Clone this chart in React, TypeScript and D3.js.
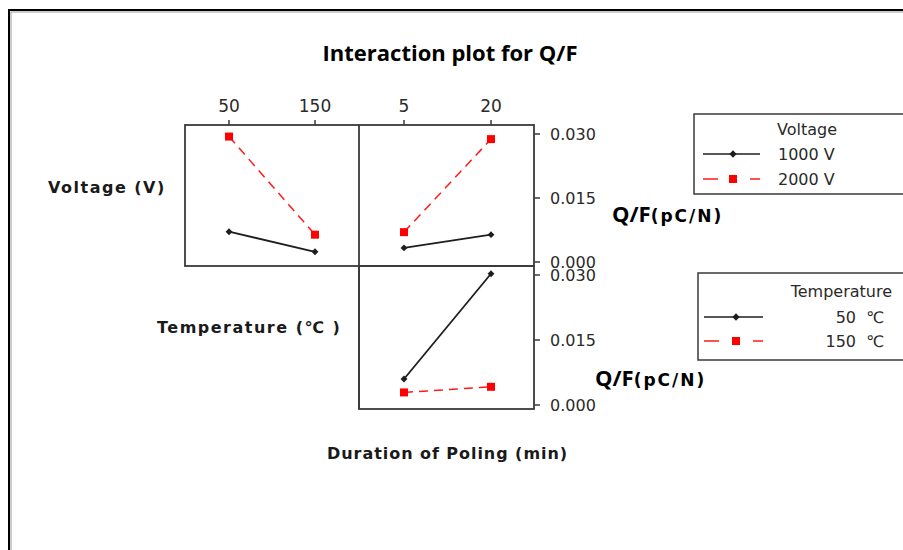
import React from 'react';
import * as d3 from 'd3';

// Factor levels
const temperatureLevels = [50, 150];
const durationLevels = [5, 20];
const voltageLabels = ['1000 V', '2000 V'];
const temperatureLabels = ['50', '150'];

// Mean Q/F (pC/N) for each factor combination
const v1000ByTemperature = [0.0071, 0.0024];
const v2000ByTemperature = [0.0294, 0.0064];
const v1000ByDuration = [0.0033, 0.0064];
const v2000ByDuration = [0.0070, 0.0288];
const t50ByDuration = [0.0060, 0.0303];
const t150ByDuration = [0.0029, 0.0042];

const yTicks = [0, 0.015, 0.03];

const tickFont = '"DejaVu Sans", Tahoma, sans-serif';
const titleFont = '"Open Sans", "Noto Sans", sans-serif';
const BLACK = '#1e1e1e';
const RED = '#ff1a1a';
const FRAME = '#3a3a3a';
const TEXT = '#2a2a2a';

type Panel = { x0: number; x1: number; y0: number; y1: number };

const colL: Panel = { x0: 185, x1: 359, y0: 125, y1: 266 };
const colR: Panel = { x0: 359, x1: 534, y0: 125, y1: 266 };
const rowB: Panel = { x0: 359, x1: 534, y0: 266, y1: 409 };

const yScaleFor = (p: Panel) =>
  d3.scaleLinear().domain([0, 0.03]).range([p.y1 - 4, p.y0 + 9]);

const diamondType = (d3 as any).symbolDiamond2 || d3.symbolDiamond;
const diamond = d3.symbol().type(diamondType).size(30)();
const legendDiamond = d3.symbol().type(diamondType).size(34)();
const square = d3.symbol().type(d3.symbolSquare).size(64)();

function Series({
  xs,
  ys,
  x,
  y,
  red,
}: {
  xs: number[];
  ys: number[];
  x: d3.ScaleLinear<number, number>;
  y: d3.ScaleLinear<number, number>;
  red?: boolean;
}) {
  const pts = xs.map((v, i) => [x(v), y(ys[i])] as [number, number]);
  const line = d3.line()(pts) || '';
  return (
    <g>
      <path
        d={line}
        fill="none"
        stroke={red ? RED : BLACK}
        strokeWidth={red ? 1.5 : 1.8}
        strokeDasharray={red ? '9 6' : undefined}
      />
      {pts.map((p, i) => (
        <path
          key={i}
          d={red ? square : diamond}
          transform={`translate(${p[0]},${p[1]})`}
          fill={red ? '#ff0000' : BLACK}
        />
      ))}
    </g>
  );
}

function RightAxis({ p }: { p: Panel }) {
  const y = yScaleFor(p);
  return (
    <g>
      {yTicks.map((t) => (
        <g key={t} transform={`translate(${p.x1},${y(t)})`}>
          <line x1={0} x2={6} stroke={FRAME} strokeWidth={1.5} />
          <text x={16} dy="0.36em" fontFamily={tickFont} fontSize={16} fill={TEXT}>
            {d3.format('.3f')(t)}
          </text>
        </g>
      ))}
    </g>
  );
}

function TopAxis({ p, x, levels }: { p: Panel; x: d3.ScaleLinear<number, number>; levels: number[] }) {
  return (
    <g>
      {levels.map((l) => (
        <g key={l} transform={`translate(${x(l)},${p.y0})`}>
          <line y1={0} y2={-5} stroke={FRAME} strokeWidth={1.5} />
          <text y={-13} textAnchor="middle" fontFamily={tickFont} fontSize={17} fill={TEXT}>
            {l}
          </text>
        </g>
      ))}
    </g>
  );
}

export default function App() {
  const xTemp = d3
    .scaleLinear()
    .domain(d3.extent(temperatureLevels) as [number, number])
    .range([colL.x0 + 44, colL.x1 - 44]);
  const xDur = d3
    .scaleLinear()
    .domain(d3.extent(durationLevels) as [number, number])
    .range([colR.x0 + 45, colR.x1 - 43]);
  const yTop = yScaleFor(colL);
  const yBottom = yScaleFor(rowB);

  const labelStyle = {
    fontFamily: tickFont,
    fontWeight: 700,
    fontSize: 16,
    letterSpacing: 1.5,
    fill: '#1a1a1a',
  } as const;

  const legendText = { fontFamily: tickFont, fontSize: 16, fill: TEXT } as const;

  return (
    <svg
      width={903}
      height={550}
      style={{ position: 'absolute', left: 0, top: 0, background: '#fff' }}
      xmlns="http://www.w3.org/2000/svg"
    >
      {/* outer frame */}
      <rect x={9} y={10} width={1000} height={700} fill="none" stroke="#000" strokeWidth={2} />
      <rect x={11} y={12} width={1000} height={700} fill="none" stroke="#999" strokeWidth={1} />

      <text
        x={450}
        y={61}
        textAnchor="middle"
        fontFamily={titleFont}
        fontWeight={700}
        fontSize={22}
        fill="#000"
      >
        Interaction plot for Q/F
      </text>

      {/* panel frames */}
      <rect x={colL.x0} y={colL.y0} width={colR.x1 - colL.x0} height={colL.y1 - colL.y0} fill="none" stroke={FRAME} strokeWidth={1.8} />
      <line x1={colL.x1} x2={colL.x1} y1={colL.y0} y2={rowB.y1} stroke={FRAME} strokeWidth={1.8} />
      <rect x={rowB.x0} y={rowB.y0} width={rowB.x1 - rowB.x0} height={rowB.y1 - rowB.y0} fill="none" stroke={FRAME} strokeWidth={1.8} />

      <TopAxis p={colL} x={xTemp} levels={temperatureLevels} />
      <TopAxis p={colR} x={xDur} levels={durationLevels} />
      <RightAxis p={colR} />
      <RightAxis p={rowB} />

      {/* Voltage × Temperature */}
      <Series xs={temperatureLevels} ys={v1000ByTemperature} x={xTemp} y={yTop} />
      <Series xs={temperatureLevels} ys={v2000ByTemperature} x={xTemp} y={yTop} red />
      {/* Voltage × Duration */}
      <Series xs={durationLevels} ys={v1000ByDuration} x={xDur} y={yTop} />
      <Series xs={durationLevels} ys={v2000ByDuration} x={xDur} y={yTop} red />
      {/* Temperature × Duration */}
      <Series xs={durationLevels} ys={t50ByDuration} x={xDur} y={yBottom} />
      <Series xs={durationLevels} ys={t150ByDuration} x={xDur} y={yBottom} red />

      {/* factor labels */}
      <text x={48} y={193} {...labelStyle}>Voltage (V)</text>
      <text x={157} y={333} {...labelStyle}>Temperature (℃ )</text>
      <text x={327} y={459} {...labelStyle} letterSpacing={0.95}>Duration of Poling (min)</text>

      {/* response labels */}
      <text x={612} y={222} fill="#000">
        <tspan fontFamily={titleFont} fontWeight={700} fontSize={22}>Q/F</tspan>
        <tspan fontFamily={tickFont} fontWeight={700} fontSize={17} letterSpacing={2}>(pC/N)</tspan>
      </text>
      <text x={595} y={386} fill="#000">
        <tspan fontFamily={titleFont} fontWeight={700} fontSize={22}>Q/F</tspan>
        <tspan fontFamily={tickFont} fontWeight={700} fontSize={17} letterSpacing={2}>(pC/N)</tspan>
      </text>

      {/* Voltage legend */}
      <g>
        <rect x={694} y={114} width={230} height={80} fill="#fff" stroke={FRAME} strokeWidth={1.5} />
        <text x={807} y={135} textAnchor="middle" {...legendText}>Voltage</text>
        {voltageLabels.map((lab, i) => {
          const yy = 154 + i * 25;
          const red = i === 1;
          return (
            <g key={lab}>
              <line x1={703} x2={760} y1={yy} y2={yy} stroke={red ? RED : BLACK} strokeWidth={1.5} strokeDasharray={red ? '15 32 10' : undefined} />
              <path d={red ? square : legendDiamond} transform={`translate(733,${yy})`} fill={red ? '#ff0000' : BLACK} />
              <text x={778} y={yy} dy="0.36em" {...legendText}>{lab}</text>
            </g>
          );
        })}
      </g>

      {/* Temperature legend */}
      <g>
        <rect x={698} y={273} width={230} height={87} fill="#fff" stroke={FRAME} strokeWidth={1.5} />
        <text x={892} y={297} textAnchor="end" {...legendText}>Temperature</text>
        {temperatureLabels.map((lab, i) => {
          const yy = 317 + i * 24;
          const red = i === 1;
          return (
            <g key={lab}>
              <line x1={704} x2={763} y1={yy} y2={yy} stroke={red ? RED : BLACK} strokeWidth={1.5} strokeDasharray={red ? '15 34 10' : undefined} />
              <path d={red ? square : legendDiamond} transform={`translate(736,${yy})`} fill={red ? '#ff0000' : BLACK} />
              <text x={856} y={yy} dy="0.36em" textAnchor="end" {...legendText}>{lab}</text>
              <text x={866} y={yy} dy="0.36em" {...legendText}>℃</text>
            </g>
          );
        })}
      </g>
    </svg>
  );
}
